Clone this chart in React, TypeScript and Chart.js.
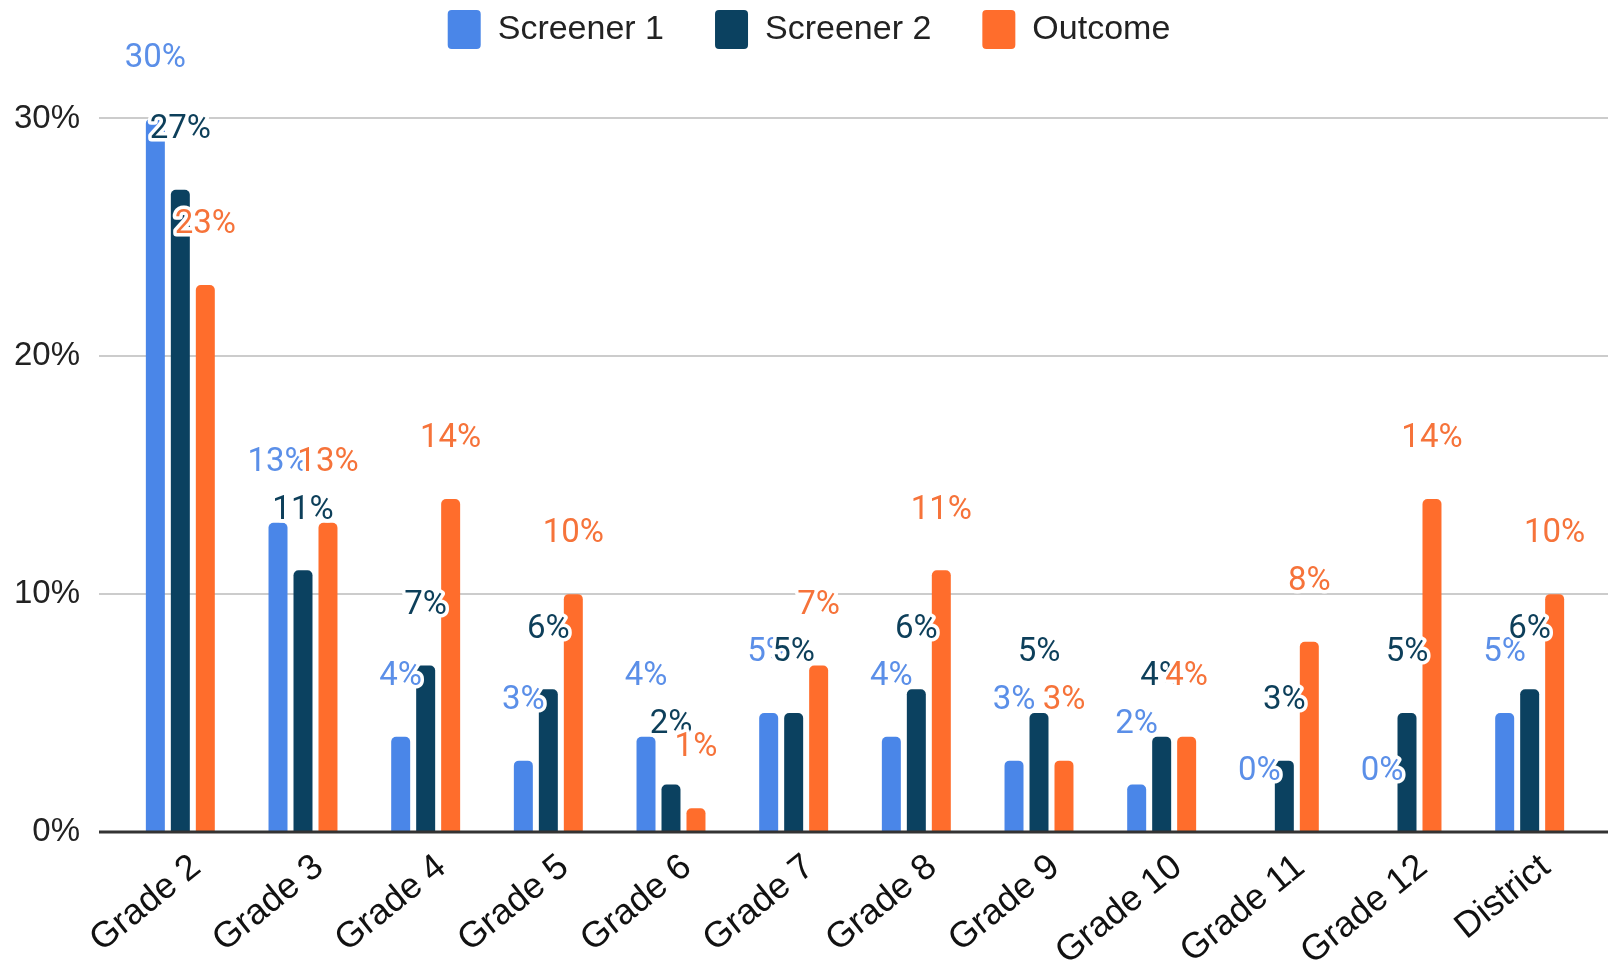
import React, { useEffect, useRef } from "react";
import { Chart, registerables } from "chart.js";

Chart.register(...registerables);

const categories = ["Grade 2", "Grade 3", "Grade 4", "Grade 5", "Grade 6", "Grade 7", "Grade 8", "Grade 9", "Grade 10", "Grade 11", "Grade 12", "District"];
const screener1 = [30, 13, 4, 3, 4, 5, 4, 3, 2, 0, 0, 5];
const screener2 = [27, 11, 7, 6, 2, 5, 6, 5, 4, 3, 5, 6];
const outcome = [23, 13, 14, 10, 1, 7, 11, 3, 4, 8, 14, 10];
const yTicks = [0, 10, 20, 30];

const seriesNames = ["Screener 1", "Screener 2", "Outcome"];
const barColors = ["#4a86e8", "#0b4160", "#ff6d2c"];
const labelColors = ["#5b8fe8", "#0d3f5a", "#f6733a"];

const ARIAL = "'Liberation Sans', Arial, sans-serif";

const gridPlugin = {
  id: "extGrid",
  beforeDatasetsDraw(chart: any) {
    const { ctx, chartArea } = chart;
    const y = chart.scales.y;
    ctx.save();
    ctx.strokeStyle = "#cccccc";
    ctx.lineWidth = 2;
    yTicks.forEach((v) => {
      if (v === 0) return;
      const py = Math.round(y.getPixelForValue(v));
      ctx.beginPath();
      ctx.moveTo(chartArea.left - 20, py);
      ctx.lineTo(chart.width, py);
      ctx.stroke();
    });
    ctx.font = `33px ${ARIAL}`;
    ctx.fillStyle = "#222222";
    ctx.textAlign = "right";
    ctx.textBaseline = "middle";
    yTicks.forEach((v) => {
      ctx.fillText(v + "%", chartArea.left - 39, y.getPixelForValue(v));
    });
    ctx.restore();
  },
  afterDatasetsDraw(chart: any) {
    const { ctx, chartArea } = chart;
    const y = chart.scales.y;
    ctx.save();
    const py = y.getPixelForValue(0);
    ctx.strokeStyle = "#333333";
    ctx.lineWidth = 3;
    ctx.beginPath();
    ctx.moveTo(chartArea.left - 20, py);
    ctx.lineTo(chart.width, py);
    ctx.stroke();

    ctx.font = "33px Roboto";
    ctx.textAlign = "center";
    ctx.textBaseline = "middle";
    ctx.lineJoin = "round";
    chart.data.datasets.forEach((ds: any, i: number) => {
      const meta = chart.getDatasetMeta(i);
      meta.data.forEach((el: any, j: number) => {
        const v = ds.data[j];
        const text = v + "%";
        const ly = el.y - 60;
        ctx.strokeStyle = "#ffffff";
        ctx.lineWidth = 7;
        ctx.strokeText(text, el.x, ly);
        ctx.fillStyle = labelColors[i];
        ctx.fillText(text, el.x, ly);
      });
    });
    ctx.restore();
  },
};

export default function App() {
  const ref = useRef<HTMLCanvasElement | null>(null);

  useEffect(() => {
    if (!ref.current) return;
    const series = [screener1, screener2, outcome];
    const chart = new Chart(ref.current, {
      type: "bar",
      data: {
        labels: categories,
        datasets: series.map((d, i) => ({
          label: seriesNames[i],
          data: d,
          backgroundColor: barColors[i],
          borderWidth: 0,
          borderRadius: 5,
          borderSkipped: "start",
          categoryPercentage: 0.611,
          barPercentage: 0.76,
        })),
      },
      options: {
        responsive: false,
        animation: false,
        devicePixelRatio: 1,
        layout: { padding: { top: -41, left: 27, right: 17, bottom: 0 } },
        plugins: {
          legend: {
            position: "top",
            labels: {
              boxWidth: 33,
              boxHeight: 39,
              padding: 51,
              useBorderRadius: true,
              borderRadius: 4,
              color: "#222222",
              font: { family: ARIAL, size: 34 },
            },
          },
          tooltip: { enabled: false },
        },
        scales: {
          x: {
            grid: { display: false },
            border: { display: false },
            ticks: {
              autoSkip: false,
              minRotation: 39,
              maxRotation: 39,
              labelOffset: 16,
              padding: 6,
              color: "#111111",
              font: { family: ARIAL, size: 36 },
            },
            afterFit: (s: any) => {
              s.height = 135;
            },
          },
          y: {
            min: 0,
            max: 32.5,
            grid: { display: false },
            border: { display: false },
            ticks: {
              display: false,
              stepSize: 10,
              includeBounds: false,
            },
            afterFit: (s: any) => {
              s.width = 92;
            },
          },
        },
      },
      plugins: [gridPlugin],
    } as any);
    return () => chart.destroy();
  }, []);

  return (
    <div style={{ position: "fixed", left: 0, top: 0, width: 1608, height: 967, background: "#fff" }}>
      <canvas ref={ref} width={1608} height={967} style={{ width: 1608, height: 967, display: "block" }} />
    </div>
  );
}
